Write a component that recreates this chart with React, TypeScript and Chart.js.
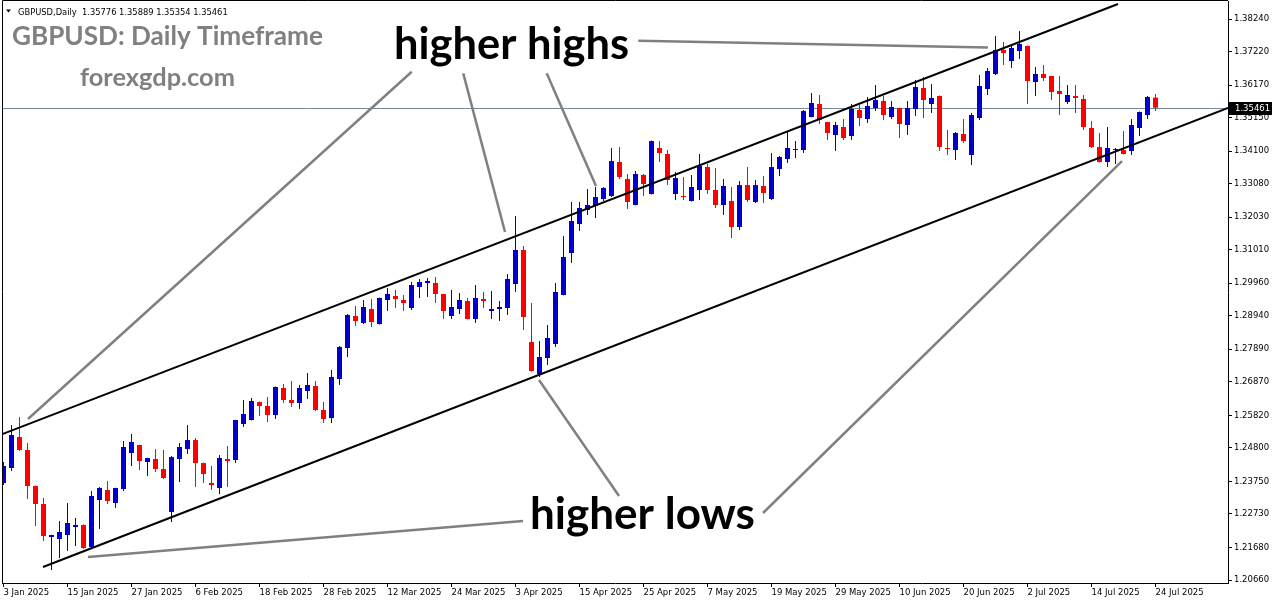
import React, { useEffect, useRef } from 'react';
import { Chart, registerables } from 'chart.js';
Chart.register(...registerables);

// ---- data ----
const headerText = 'GBPUSD,Daily  1.35776 1.35889 1.35354 1.35461';
const titleText = 'GBPUSD: Daily Timeframe';
const siteText = 'forexgdp.com';
const highsLabel = 'higher highs';
const lowsLabel = 'higher lows';

const opens = [
  1.23699, 1.24169, 1.25141, 1.24733, 1.23605, 1.23042, 1.22008, 1.21945, 1.22070, 1.22321,
  1.22384, 1.21694, 1.23167, 1.23480, 1.23073, 1.23512, 1.24639, 1.24890, 1.24357, 1.24451,
  1.24138, 1.22791, 1.24451, 1.24764, 1.25046, 1.24325, 1.23699, 1.23543, 1.24451, 1.24420,
  1.25548, 1.25673, 1.26237, 1.26112, 1.25830, 1.26677, 1.26300, 1.26206, 1.26582, 1.26739,
  1.25987, 1.25735, 1.26959, 1.27930, 1.28932, 1.28713, 1.29152, 1.28681, 1.29434, 1.29559,
  1.29434, 1.29183, 1.29842, 1.29967, 1.29967, 1.29622, 1.28932, 1.29152, 1.29403, 1.28838,
  1.29465, 1.29089, 1.29152, 1.29183, 1.29936, 1.31001, 1.28117, 1.27115, 1.27617, 1.28055,
  1.29591, 1.30907, 1.31816, 1.32255, 1.32380, 1.32599, 1.32693, 1.33758, 1.33225, 1.32411,
  1.33351, 1.32756, 1.34197, 1.34009, 1.32756, 1.32693, 1.32536, 1.32881, 1.33601, 1.32881,
  1.32411, 1.32536, 1.31722, 1.33037, 1.32505, 1.33006, 1.32599, 1.33539, 1.33852, 1.34134,
  1.34134, 1.35168, 1.35576, 1.35012, 1.34604, 1.34855, 1.34573, 1.35388, 1.35106, 1.35450,
  1.35670, 1.35168, 1.35450, 1.34918, 1.35419, 1.36077, 1.35576, 1.35827, 1.34197, 1.34134,
  1.34636, 1.33978, 1.35137, 1.36046, 1.36516, 1.37268, 1.36923, 1.37237, 1.37394, 1.36265,
  1.36516, 1.36453, 1.35983, 1.35639, 1.35827, 1.35733, 1.34824, 1.34228, 1.33758, 1.34134,
  1.34134, 1.34103, 1.34824, 1.35231, 1.35776,
];
const highs = [
  1.24357, 1.25517, 1.25767, 1.24953, 1.23620, 1.23230, 1.22080, 1.22509, 1.23073, 1.22603,
  1.22400, 1.23449, 1.23574, 1.23762, 1.23550, 1.25015, 1.25235, 1.24900, 1.24490, 1.24764,
  1.24733, 1.24545, 1.24953, 1.25517, 1.25109, 1.24340, 1.24232, 1.24576, 1.24858, 1.25680,
  1.26300, 1.26363, 1.26250, 1.26394, 1.26720, 1.26802, 1.26896, 1.26771, 1.27147, 1.26896,
  1.26237, 1.27241, 1.27993, 1.28995, 1.29246, 1.29434, 1.29465, 1.29510, 1.29810, 1.29748,
  1.29591, 1.29998, 1.30092, 1.30123, 1.30155, 1.29630, 1.29748, 1.29653, 1.29497, 1.29904,
  1.29685, 1.29716, 1.29403, 1.30249, 1.32066, 1.31127, 1.29340, 1.28149, 1.28650, 1.29967,
  1.31440, 1.32505, 1.32505, 1.32913, 1.32975, 1.32975, 1.34197, 1.34228, 1.33382, 1.33476,
  1.33382, 1.34430, 1.34416, 1.34134, 1.33444, 1.33288, 1.33351, 1.34009, 1.33695, 1.33570,
  1.33225, 1.32975, 1.33162, 1.33601, 1.33194, 1.33319, 1.34040, 1.33946, 1.34698, 1.34416,
  1.35388, 1.35921, 1.35858, 1.35020, 1.35012, 1.35106, 1.35576, 1.35545, 1.35795, 1.36171,
  1.35827, 1.35670, 1.35460, 1.35670, 1.36328, 1.36422, 1.36203, 1.35840, 1.34761, 1.34698,
  1.35106, 1.35294, 1.36485, 1.36704, 1.37707, 1.37519, 1.37425, 1.37864, 1.37410, 1.36735,
  1.36798, 1.36460, 1.36453, 1.36171, 1.36171, 1.35858, 1.35043, 1.34667, 1.34855, 1.34200,
  1.34730, 1.35106, 1.35340, 1.35827, 1.35889,
];
const lows = [
  1.23636, 1.24075, 1.24700, 1.23198, 1.22352, 1.21882, 1.20973, 1.21350, 1.21569, 1.21726,
  1.21640, 1.21650, 1.22258, 1.23042, 1.22916, 1.23449, 1.24232, 1.24106, 1.23918, 1.24044,
  1.23824, 1.22478, 1.23731, 1.24607, 1.23574, 1.23699, 1.23480, 1.23355, 1.23574, 1.24325,
  1.25454, 1.25660, 1.25798, 1.25610, 1.25704, 1.26206, 1.26081, 1.26018, 1.26331, 1.25955,
  1.25579, 1.25579, 1.26771, 1.27648, 1.28619, 1.28681, 1.28587, 1.28670, 1.29089, 1.29183,
  1.29089, 1.29121, 1.29497, 1.29528, 1.29340, 1.28838, 1.28838, 1.28995, 1.28830, 1.28713,
  1.29183, 1.28838, 1.28775, 1.28964, 1.29685, 1.28494, 1.27190, 1.27022, 1.27398, 1.27961,
  1.29580, 1.30594, 1.31597, 1.32097, 1.32004, 1.32536, 1.32661, 1.33225, 1.32286, 1.32400,
  1.32693, 1.32740, 1.33758, 1.33037, 1.32568, 1.32568, 1.32520, 1.32568, 1.32756, 1.32317,
  1.32097, 1.31377, 1.31628, 1.32505, 1.32474, 1.32474, 1.32568, 1.33319, 1.33727, 1.33884,
  1.34040, 1.35160, 1.34949, 1.34448, 1.34103, 1.34448, 1.34448, 1.34886, 1.34980, 1.35356,
  1.35074, 1.35106, 1.34510, 1.34604, 1.35200, 1.35137, 1.35294, 1.34103, 1.33978, 1.33821,
  1.34354, 1.33664, 1.35074, 1.35858, 1.36485, 1.36798, 1.36704, 1.36986, 1.35576, 1.35827,
  1.36297, 1.35701, 1.35231, 1.35576, 1.35294, 1.34761, 1.34197, 1.33740, 1.33601, 1.33695,
  1.33990, 1.33978, 1.34573, 1.35106, 1.35354,
];
const closes = [
  1.24232, 1.25203, 1.24733, 1.23605, 1.23042, 1.22039, 1.22070, 1.22164, 1.22446, 1.22384,
  1.21663, 1.23292, 1.23543, 1.23136, 1.23543, 1.24827, 1.24984, 1.24388, 1.24482, 1.24138,
  1.23856, 1.24513, 1.24827, 1.25046, 1.24325, 1.23981, 1.23636, 1.24482, 1.24388, 1.25673,
  1.25861, 1.26269, 1.26112, 1.25830, 1.26708, 1.26300, 1.26206, 1.26677, 1.26771, 1.25987,
  1.25704, 1.27022, 1.27961, 1.28964, 1.28775, 1.29215, 1.28744, 1.29497, 1.29622, 1.29465,
  1.29340, 1.29904, 1.29998, 1.30030, 1.29622, 1.29089, 1.29215, 1.29434, 1.28838, 1.29497,
  1.29403, 1.29152, 1.29215, 1.30092, 1.31001, 1.28901, 1.27209, 1.27648, 1.28243, 1.29685,
  1.30782, 1.31910, 1.32317, 1.32411, 1.32661, 1.32944, 1.33789, 1.33288, 1.32505, 1.33382,
  1.33069, 1.34416, 1.34040, 1.33194, 1.33256, 1.32661, 1.32975, 1.33633, 1.32881, 1.32411,
  1.33006, 1.31722, 1.33037, 1.32568, 1.33037, 1.32787, 1.33601, 1.33915, 1.34197, 1.34166,
  1.35356, 1.35607, 1.35074, 1.34667, 1.34918, 1.34510, 1.35419, 1.35137, 1.35513, 1.35701,
  1.35231, 1.35482, 1.34949, 1.35450, 1.36109, 1.35701, 1.35764, 1.34228, 1.34166, 1.34667,
  1.34416, 1.35231, 1.36140, 1.36610, 1.37268, 1.37174, 1.37331, 1.37456, 1.36297, 1.36516,
  1.36391, 1.35952, 1.35889, 1.35858, 1.35764, 1.34855, 1.34228, 1.33758, 1.34197, 1.34166,
  1.34009, 1.34918, 1.35325, 1.35795, 1.35461,
];

const xTickLabels = [
  '3 Jan 2025', '15 Jan 2025', '27 Jan 2025', '6 Feb 2025', '18 Feb 2025', '28 Feb 2025',
  '12 Mar 2025', '24 Mar 2025', '3 Apr 2025', '15 Apr 2025', '25 Apr 2025', '7 May 2025',
  '19 May 2025', '29 May 2025', '10 Jun 2025', '20 Jun 2025', '2 Jul 2025', '14 Jul 2025',
  '24 Jul 2025',
];
const xTickEvery = 8; // bars between date labels
const yTickValues = [
  1.38240, 1.37220, 1.36170, 1.35150, 1.34100, 1.33080, 1.32030, 1.31010, 1.29960,
  1.28940, 1.27890, 1.26870, 1.25820, 1.24800, 1.23750, 1.22730, 1.21680, 1.20660,
];
const lastPrice = 1.35461;

// channel lines (bar index, price)
const channelUpper = [{ x: -0.4375, y: 1.25203 }, { x: 139.3125, y: 1.38710 }];
const channelLower = [{ x: 4.9375, y: 1.21067 }, { x: 153.0625, y: 1.35457 }];
// grey pointer lines (bar index, price)
const pointerHighs1 = [{ x: 51.03, y: 1.36588 }, { x: 3.06, y: 1.25705 }];
const pointerHighs2 = [{ x: 57.47, y: 1.36538 }, { x: 62.69, y: 1.31565 }];
const pointerHighs3 = [{ x: 67.90, y: 1.36538 }, { x: 74.06, y: 1.33006 }];
const pointerHighs4 = [{ x: 79.35, y: 1.37560 }, { x: 123.06, y: 1.37346 }];
const pointerLows1 = [{ x: 64.94, y: 1.22509 }, { x: 10.56, y: 1.21381 }];
const pointerLows2 = [{ x: 66.94, y: 1.26927 }, { x: 76.94, y: 1.23292 }];
const pointerLows3 = [{ x: 94.94, y: 1.22760 }, { x: 139.81, y: 1.33789 }];

// ---- styles ----
const BULL = '#0000cd';
const BEAR = '#ff0000';
const AXIS_FONT = 'DejaVu Sans';

function fitSize(ctx: CanvasRenderingContext2D, text: string, family: string, weight: string, targetW: number) {
  ctx.font = `${weight} 40px "${family}"`;
  const w = ctx.measureText(text).width;
  return (40 * targetW) / w;
}

function drawFitText(ctx: CanvasRenderingContext2D, text: string, family: string, weight: string, x: number, baseline: number, targetW: number, color: string) {
  const size = fitSize(ctx, text, family, weight, targetW);
  ctx.font = `${weight} ${size}px "${family}"`;
  ctx.fillStyle = color;
  ctx.textAlign = 'left';
  ctx.textBaseline = 'alphabetic';
  ctx.fillText(text, x, baseline);
}

const overlayPlugin = {
  id: 'overlay',
  beforeDatasetsDraw(chart: any) {
    const { ctx, chartArea } = chart;
    const y = Math.round(chart.scales.y.getPixelForValue(lastPrice)) + 0.5;
    ctx.save();
    ctx.strokeStyle = '#778899';
    ctx.lineWidth = 1;
    ctx.beginPath();
    ctx.moveTo(chartArea.left, y);
    ctx.lineTo(chartArea.right, y);
    ctx.stroke();
    ctx.restore();
  },
  afterDraw(chart: any) {
    const { ctx, chartArea } = chart;
    ctx.save();
    // frame (left & top)
    ctx.strokeStyle = '#000';
    ctx.lineWidth = 1;
    ctx.beginPath();
    ctx.moveTo(chartArea.left + 0.5, chartArea.bottom);
    ctx.lineTo(chartArea.left + 0.5, 0.5);
    ctx.lineTo(chartArea.right, 0.5);
    ctx.stroke();

    // header
    ctx.fillStyle = '#000';
    ctx.beginPath();
    ctx.moveTo(6, 9.5);
    ctx.lineTo(11, 9.5);
    ctx.lineTo(8.5, 12.5);
    ctx.closePath();
    ctx.fill();
    drawFitText(ctx, headerText, AXIS_FONT, 'normal', 18, 14.5, 210, '#000');

    // titles
    drawFitText(ctx, titleText, 'Lato', 'bold', 12, 45, 311, '#808080');
    drawFitText(ctx, siteText, 'Lato', 'bold', 80, 86, 155, '#808080');

    // annotations
    drawFitText(ctx, highsLabel, 'Lato', 'bold', 394, 59, 235, '#000');
    drawFitText(ctx, lowsLabel, 'Lato', 'bold', 530, 529, 225, '#000');

    // price tag
    const py = Math.round(chart.scales.y.getPixelForValue(lastPrice));
    ctx.fillStyle = '#000';
    ctx.fillRect(chartArea.right + 1, py - 6, 43, 13);
    ctx.fillStyle = '#fff';
    ctx.font = `8.5px "${AXIS_FONT}"`;
    ctx.textAlign = 'left';
    ctx.textBaseline = 'middle';
    ctx.fillText(lastPrice.toFixed(5), chartArea.right + 7, py + 0.5);
    ctx.restore();
  },
};

function lineDs(data: { x: number; y: number }[], color: string, width: number) {
  return {
    type: 'line' as const,
    data,
    borderColor: color,
    borderWidth: width,
    pointRadius: 0,
    tension: 0,
    fill: false,
    order: 0,
  };
}

export default function App() {
  const ref = useRef<HTMLCanvasElement>(null);
  useEffect(() => {
    const colors = opens.map((o, i) => (closes[i] >= o ? BULL : BEAR));
    const wickData = opens.map((_, i) => ({ x: i, y: [lows[i], highs[i]] }));
    const bodyData = opens.map((o, i) => ({ x: i, y: [o, closes[i]] }));
    const grey = '#808080';
    const chart = new Chart(ref.current as HTMLCanvasElement, {
      type: 'bar',
      data: {
        datasets: [
          lineDs(channelUpper, '#000', 2),
          lineDs(channelLower, '#000', 2),
          lineDs(pointerHighs1, grey, 2.5),
          lineDs(pointerHighs2, grey, 2.5),
          lineDs(pointerHighs3, grey, 2.5),
          lineDs(pointerHighs4, grey, 2.5),
          lineDs(pointerLows1, grey, 2.5),
          lineDs(pointerLows2, grey, 2.5),
          lineDs(pointerLows3, grey, 2.5),
          {
            type: 'bar',
            data: bodyData as any,
            backgroundColor: colors,
            borderWidth: 0,
            barThickness: 5,
            minBarLength: 1,
            grouped: false,
            inflateAmount: 0,
            order: 1,
          } as any,
          {
            type: 'bar',
            data: wickData as any,
            backgroundColor: colors,
            borderWidth: 0,
            barThickness: 1,
            minBarLength: 1,
            grouped: false,
            inflateAmount: 0,
            order: 2,
          } as any,
        ],
      },
      options: {
        responsive: false,
        animation: false,
        events: [],
        layout: { padding: { left: 2, top: 1, right: 0, bottom: 0 } },
        plugins: { legend: { display: false }, tooltip: { enabled: false } },
        scales: {
          x: {
            type: 'linear',
            min: -0.1875,
            max: 153.0625,
            offset: false,
            afterBuildTicks: (s: any) => {
              s.ticks = xTickLabels.map((_, k) => ({ value: k * xTickEvery }));
            },
            afterFit: (s: any) => {
              s.height = 21;
              s.paddingLeft = 0;
              s.paddingRight = 0;
            },
            grid: { display: true, drawOnChartArea: false, drawTicks: true, tickLength: 4, color: '#000', offset: false },
            border: { display: true, color: '#000', width: 1 },
            ticks: {
              autoSkip: false,
              maxRotation: 0,
              minRotation: 0,
              align: 'start',
              padding: 1,
              color: '#000',
              font: { family: AXIS_FONT, size: 8.5 },
              callback: (v: any) => xTickLabels[Math.round(Number(v) / xTickEvery)] ?? '',
            },
          },
          y: {
            type: 'linear',
            position: 'right',
            min: 1.20566,
            max: 1.388041,
            beginAtZero: false,
            afterBuildTicks: (s: any) => {
              s.ticks = yTickValues.map((v) => ({ value: v }));
            },
            afterFit: (s: any) => {
              s.width = 48;
              s.paddingTop = 0;
              s.paddingBottom = 0;
            },
            grid: { display: true, drawOnChartArea: false, drawTicks: true, tickLength: 4, color: '#000' },
            border: { display: true, color: '#000', width: 1 },
            ticks: {
              autoSkip: false,
              padding: 2,
              color: '#000',
              font: { family: AXIS_FONT, size: 8.5 },
              callback: (v: any) => Number(v).toFixed(5),
            },
          },
        },
      } as any,
      plugins: [overlayPlugin],
    } as any);
    return () => chart.destroy();
  }, []);
  return (
    <div style={{ position: 'fixed', left: 0, top: 0, width: 1276, height: 604, background: '#fff' }}>
      <canvas ref={ref} width={1276} height={604} style={{ display: 'block', width: 1276, height: 604 }} />
    </div>
  );
}
